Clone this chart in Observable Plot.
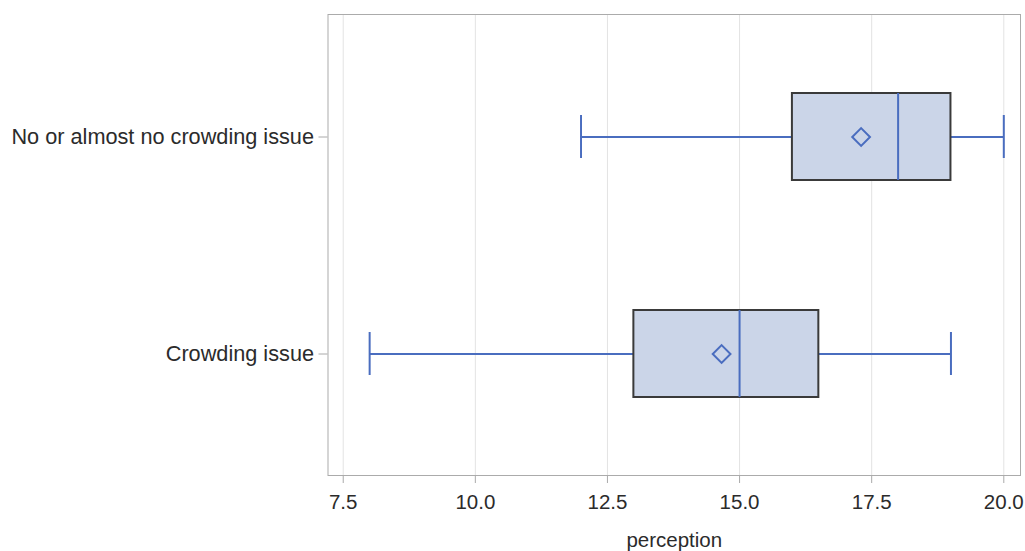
<!DOCTYPE html>
<html>
<head>
<meta charset="utf-8">
<script src="https://cdn.jsdelivr.net/npm/d3@7"></script>
<script src="https://cdn.jsdelivr.net/npm/@observablehq/plot@0.6"></script>
<style>
  html, body { margin: 0; padding: 0; background: white; }
</style>
</head>
<body>
<div id="chart"></div>
<script>
const categories = ["No or almost no crowding issue", "Crowding issue"];
const whiskerLow = [12, 8];
const q1 = [16, 13];
const median = [18, 15];
const q3 = [19, 16.5];
const whiskerHigh = [20, 19];
const mean = [17.3, 14.66];
const xTicks = [7.5, 10, 12.5, 15, 17.5, 20];

const data = categories.map((c, i) => ({
  cat: c, lo: whiskerLow[i], q1: q1[i], med: median[i], q3: q3[i], hi: whiskerHigh[i], mean: mean[i]
}));

const blue = "#4a6dbf";
const font = "'Liberation Sans', Arial, sans-serif";

const chart = Plot.plot({
  width: 1025,
  height: 551,
  marginLeft: 327.5,
  marginRight: 5,
  marginTop: 14,
  marginBottom: 76,
  style: { fontFamily: font, fontSize: "20.5px", color: "#2b2b2b", background: "white" },
  x: { domain: [7.212, 20.316] },
  y: { domain: categories, paddingInner: 0.6, paddingOuter: 0.362 },
  marks: [
    Plot.gridX(xTicks, { stroke: "#e3e3e3", strokeOpacity: 1 }),
    Plot.frame({ stroke: "#ababab" }),
    Plot.axisX({ ticks: xTicks, tickFormat: d3.format(".1f"), tickSize: 8, tickPadding: 11,
      stroke: "#aaa", fontSize: "20.5px", label: "perception", labelAnchor: "center",
      labelArrow: "none", labelOffset: 71 }),
    Plot.axisY({ tickSize: 9, tickPadding: 5, stroke: "#aaa", fontSize: "21.7px", label: null }),
    Plot.ruleY(data, { y: "cat", x1: "lo", x2: "hi", stroke: blue, strokeWidth: 2 }),
    Plot.tickX(data, { x: "lo", y: "cat", stroke: blue, strokeWidth: 2, insetTop: 22, insetBottom: 22 }),
    Plot.tickX(data, { x: "hi", y: "cat", stroke: blue, strokeWidth: 2, insetTop: 22, insetBottom: 22 }),
    Plot.barX(data, { x1: "q1", x2: "q3", y: "cat", fill: "#cbd5e8", stroke: "#3a3a3a", strokeWidth: 2 }),
    Plot.tickX(data, { x: "med", y: "cat", stroke: blue, strokeWidth: 2 }),
    Plot.dot(data, { x: "mean", y: "cat", symbol: "diamond2", r: 8, stroke: blue, strokeWidth: 2, fill: "none" })
  ]
});
document.getElementById("chart").appendChild(chart);
</script>
</body>
</html>
